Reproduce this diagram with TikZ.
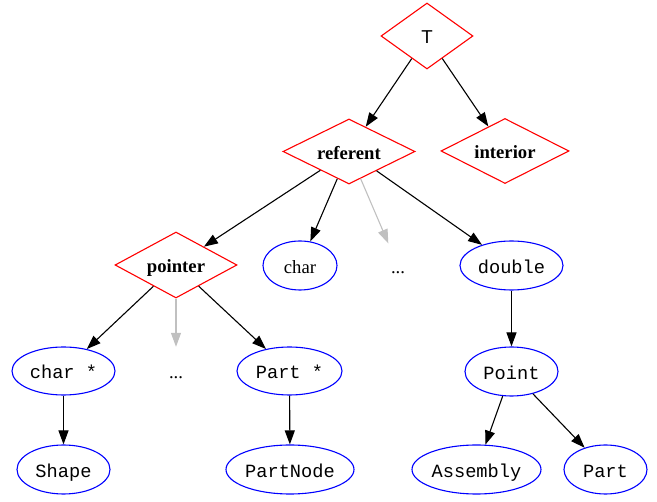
\documentclass[tikz,border=0pt]{standalone}
\usepackage{fontspec}
\setmainfont{Liberation Serif}
\newfontfamily\labelsans{Liberation Sans}
\newfontfamily\labelmono{Liberation Mono}
\usetikzlibrary{shapes.geometric,arrows.meta}
\definecolor{edgegray}{RGB}{192,192,192}
\begin{document}
\begin{tikzpicture}[x=1pt,y=-1pt,
  every node/.style={font=\fontsize{18.67}{22}\selectfont, inner sep=0pt, text height=16.6pt, text depth=1.4pt},
  kind/.style={shape=diamond, aspect=2, draw=red, line width=1.1pt, font=\fontsize{18.67}{22}\selectfont\bfseries},
  sanskind/.style={shape=diamond, aspect=2, draw=red, line width=1.1pt, font=\fontsize{18.67}{22}\selectfont\labelsans},
  leaf/.style={shape=ellipse, draw=blue, line width=1.1pt, font=\fontsize{18.67}{22}\selectfont\labelmono},
  plainleaf/.style={shape=ellipse, draw=blue, line width=1.1pt},
  hidden/.style={shape=ellipse, minimum width=54pt, minimum height=48pt},
  link/.style={-{Triangle[length=14pt,width=10pt]}, line width=1.1pt, black},
  faint/.style={link, edgegray}]
  \useasboundingbox (0,0) rectangle (657,502);

  % type nodes
  \node[sanskind, minimum width=92pt, minimum height=66pt] (T) at (427,36) {\labelsans T};
  \node[kind, minimum width=132pt, minimum height=65pt] (referent) at (349,151.5) {referent};
  \node[kind, minimum width=128pt, minimum height=65pt] (interior) at (505,151) {interior};
  \node[kind, minimum width=122pt, minimum height=66pt] (pointer) at (176,265) {pointer};

  % concrete types
  \node[plainleaf, minimum width=74pt, minimum height=49pt] (char) at (300,265.5) {char};
  \node[hidden] (dotsA) at (398,266) {...};
  \node[leaf, minimum width=103pt, minimum height=49pt] (double) at (511.5,265.5) {double};
  \node[leaf, minimum width=103pt, minimum height=48pt] (charptr) at (63.5,371) {char *};
  \node[hidden] (dotsB) at (176,371) {...};
  \node[leaf, minimum width=105pt, minimum height=48pt] (partptr) at (289.5,371) {Part *};
  \node[leaf, minimum width=93pt, minimum height=49pt] (point) at (511.5,371.5) {Point};
  \node[leaf, minimum width=93pt, minimum height=49pt] (shape) at (63.5,469.5) {Shape};
  \node[leaf, minimum width=128pt, minimum height=49pt] (partnode) at (290,469.5) {PartNode};
  \node[leaf, minimum width=129pt, minimum height=49pt] (assembly) at (476.5,469.5) {Assembly};
  \node[leaf, minimum width=83pt, minimum height=49pt] (part) at (605.5,469.5) {Part};

  % edges
  \draw[link] (T) -- (referent);
  \draw[link] (T) -- (interior);
  \draw[link] (referent) -- (pointer);
  \draw[link] (referent) -- (char);
  \draw[faint] (referent) -- (dotsA);
  \draw[link] (referent) -- (double);
  \draw[link] (pointer) -- (charptr);
  \draw[faint] (pointer) -- (dotsB);
  \draw[link] (pointer) -- (partptr);
  \draw[link] (charptr) -- (shape);
  \draw[link] (partptr) -- (partnode);
  \draw[link] (double) -- (point);
  \draw[link] (point) -- (assembly);
  \draw[link] (point) -- (part);
\end{tikzpicture}
\end{document}
